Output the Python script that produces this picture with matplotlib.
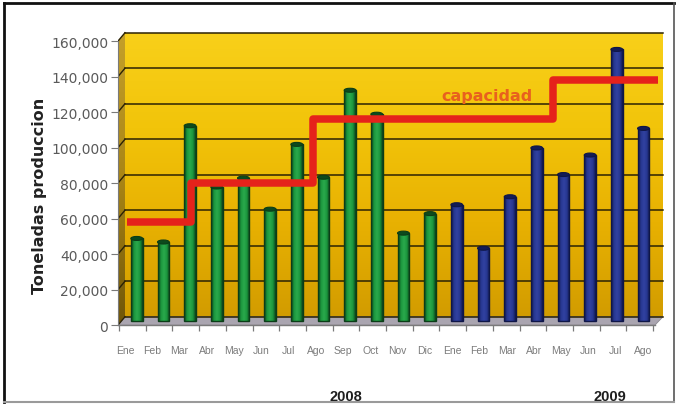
import numpy as np
import matplotlib
matplotlib.use("Agg")
import matplotlib.pyplot as plt
from matplotlib.colors import LinearSegmentedColormap
from matplotlib.patches import Polygon, Ellipse
from matplotlib.lines import Line2D

# ---------------- data ----------------
months = ["Ene", "Feb", "Mar", "Abr", "May", "Jun", "Jul", "Ago", "Sep", "Oct", "Nov", "Dic",
          "Ene", "Feb", "Mar", "Abr", "May", "Jun", "Jul", "Ago"]
prod_2008 = [46500, 44500, 110000, 75500, 80500, 63000, 99500, 81000,
             130000, 116500, 49500, 60500]
prod_2009 = [65500, 41000, 70000, 97500, 82500, 93500, 153000, 108500]
capacity_levels = [56000, 78000, 114000, 136000]
capacity_changes = [2.05, 6.6, 15.6]          # month position where capacity steps up
ytick_values = [0, 20000, 40000, 60000, 80000, 100000, 120000, 140000, 160000]
ytick_labels = ["0", "20,000", "40,000", "60,000", "80,000",
                "100,000", "120,000", "140,000", "160,000"]
years = ["2008", "2009"]

# ---------------- layout helpers (pixel -> data) ----------------
W, H = 677, 406
X0PX, DXPX = 136.7, 26.67          # first bar centre, bar spacing (px)
Y0PX, PX_PER_T = 322.0, 1.775e-3   # zero line of bar plane, px per tonne


def px_x(p):
    return (p - X0PX) / DXPX


def px_y(p):
    return (Y0PX - p) / PX_PER_T


fig = plt.figure(figsize=(W / 100, H / 100), dpi=100)
fig.patch.set_facecolor("white")
ax_l, ax_r, ax_t, ax_b = 118, 667.4, 28, 332
ax = fig.add_axes([ax_l / W, 1 - ax_b / H, (ax_r - ax_l) / W, (ax_b - ax_t) / H])
ax.patch.set_alpha(0)

xf0, xf1 = px_x(118), px_x(655)   # front edge
xb0, xb1 = px_x(125), px_x(663)   # back wall
d_back, d_front = 2420, -2300      # depth offsets in value units
top = 160000

# back wall with vertical gradient
wall_cmap = LinearSegmentedColormap.from_list(
    "wall", ["#d29c00", "#e8b102", "#f2c40a", "#f8d01a"])
ax.imshow(np.linspace(0, 1, 256).reshape(-1, 1), extent=(xb0, xb1, d_back, top + d_back),
          origin="lower", aspect="auto", cmap=wall_cmap, zorder=0, interpolation="bilinear")

# left side wall
side = Polygon([(xf0, d_front), (xb0, d_back), (xb0, top + d_back), (xf0, top + d_front)],
               closed=True, facecolor="none", edgecolor="none", zorder=0.5)
ax.add_patch(side)
side_cmap = LinearSegmentedColormap.from_list("side", ["#6f5508", "#a98516", "#c4a02a"])
im_side = ax.imshow(np.linspace(0, 1, 256).reshape(-1, 1),
                    extent=(xf0, xb0, d_front, top + d_back), origin="lower",
                    aspect="auto", cmap=side_cmap, zorder=0.5, interpolation="bilinear")
im_side.set_clip_path(side)

# floor
floor = Polygon([(xf0, d_front), (xf1, d_front), (xb1, d_back), (xb0, d_back)],
                closed=True, facecolor="#aaa5b0", edgecolor="#8d8a92", lw=0.6, zorder=0.6)
ax.add_patch(floor)

# grid lines on back and side walls
for v in ytick_values:
    ax.plot([xb0, xb1], [v + d_back, v + d_back], color="#2b2204", lw=1.1, zorder=1)
    ax.plot([xf0, xb0], [v + d_front, v + d_back], color="#2b2204", lw=1.0, zorder=1)

# ---------------- bars ----------------
x = np.arange(len(months))
green = dict(base="#1b963d", dark="#0b3d18", light="#2aa94c", cap="#0d4a1d")
blue = dict(base="#273791", dark="#0f1648", light="#3142a0", cap="#141c55")
bar_w = 0.44
cap_h = 4 / PX_PER_T   # cap ellipse height: 4 px in value units

for xs, vals, pal in ((x[:12], prod_2008, green), (x[12:], prod_2009, blue)):
    bars = ax.bar(xs, vals, width=bar_w, color=pal["base"], edgecolor=pal["dark"],
                  lw=1.0, zorder=3)
    cmap = LinearSegmentedColormap.from_list(
        "cyl", [pal["dark"], pal["base"], pal["light"], pal["base"], pal["dark"]])
    for p in bars:
        bx, bw, bh = p.get_x(), p.get_width(), p.get_height()
        im = ax.imshow(np.linspace(0, 1, 64).reshape(1, -1), extent=(bx, bx + bw, 0, bh),
                       aspect="auto", cmap=cmap, zorder=3.05, interpolation="bilinear")
        im.set_clip_path(p)
        p.set_facecolor("none")
        p.set_zorder(3.1)
        ax.add_patch(Ellipse((bx + bw / 2, bh), bw, cap_h, facecolor=pal["cap"],
                             edgecolor=pal["dark"], lw=0.8, zorder=3.2))

# ---------------- capacity step line ----------------
x_start, x_end = px_x(127), px_x(658)
edges = [x_start] + capacity_changes + [x_end]
cx, cy = [], []
for j, lvl in enumerate(capacity_levels):
    cx += [edges[j], edges[j + 1]]
    cy += [lvl, lvl]
ax.plot(cx, cy, color="#e5221b", lw=5.4, solid_joinstyle="round",
        solid_capstyle="butt", zorder=4)
ax.text(px_x(487.5), px_y(96), "capacidad", ha="center", va="center",
        color="#e8601e", fontsize=11.5, fontweight="semibold", family="DejaVu Sans", zorder=5)

# ---------------- axes, ticks ----------------
ax.set_xlim(px_x(ax_l), px_x(ax_r))
ax.set_ylim(px_y(ax_b), px_y(ax_t))
for s in ("top", "right", "bottom"):
    ax.spines[s].set_visible(False)
ax.spines["left"].set_color("#7a7a7a")
ax.spines["left"].set_bounds(d_front, top + d_front)

ax.set_yticks([v + d_front for v in ytick_values])
ax.set_yticklabels(ytick_labels, family="DejaVu Sans", fontsize=10, color="#5a5a5a")
ax.tick_params(axis="y", direction="out", length=5, color="#7a7a7a", pad=2)

label_pos = [px_x(125 + 27.26 * i) for i in range(len(months))]
ax.set_xticks(label_pos)
ax.set_xticklabels(months, family="Liberation Sans", fontsize=7.5, color="#7c7c7c")
ax.tick_params(axis="x", length=0, pad=10)

# front floor edge with category ticks
ax.plot([xf0, xf1], [d_front, d_front], color="#7a7a7a", lw=1.0, zorder=2, clip_on=False)
tick_x = [px_x(119 + 26.7 * k) for k in range(len(months) + 1)]
ax.vlines(tick_x, px_y(331.5), d_front, color="#7a7a7a", lw=0.9, clip_on=False)

# axis title and year labels
fig.text(40 / W, 1 - 196 / H, "Toneladas produccion", rotation=90, ha="center",
         va="center", fontsize=11.5, fontweight="bold", family="DejaVu Sans", color="#222222")
for yr, px in zip(years, (346, 609.5)):
    fig.text(px / W, 1 - 397 / H, yr, ha="center", va="center", fontsize=10.5,
             fontweight="bold", family="Liberation Sans", color="#1e1e1e")


# outer frame
def frame_line(p0, p1, color, lw):
    fig.add_artist(Line2D([p0[0] / W, p1[0] / W], [1 - p0[1] / H, 1 - p1[1] / H],
                          transform=fig.transFigure, color=color, lw=lw))


frame_line((4, 4), (674, 4), "#111111", 2.0)
frame_line((4, 4), (4, 403), "#111111", 2.0)
frame_line((674, 4), (674, 403), "#555555", 1.2)
frame_line((4, 403), (674, 403), "#9a9a9a", 1.5)

fig.savefig("out.png", dpi=100)
